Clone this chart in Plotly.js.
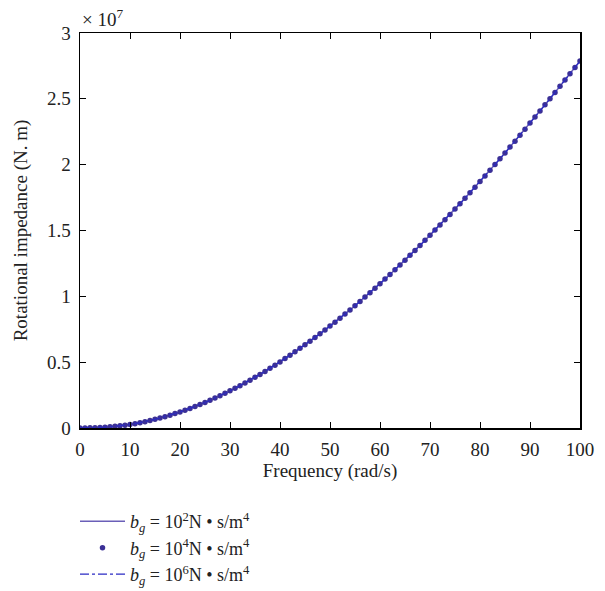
<!DOCTYPE html>
<html>
<head>
<meta charset="utf-8">
<script src="https://cdn.plot.ly/plotly-3.0.1.min.js"></script>
<style>html,body{margin:0;padding:0;background:#fff;}#chart{width:605px;height:591px;}</style>
</head>
<body>
<div id="chart"></div>
<script>
// Frequency (rad/s)
const frequency = [0,1,2,3,4,5,6,7,8,9,10,11,12,13,14,15,16,17,18,19,20,21,22,23,24,25,26,27,28,29,30,31,32,33,34,35,36,37,38,39,40,41,42,43,44,45,46,47,48,49,50,51,52,53,54,55,56,57,58,59,60,61,62,63,64,65,66,67,68,69,70,71,72,73,74,75,76,77,78,79,80,81,82,83,84,85,86,87,88,89,90,91,92,93,94,95,96,97,98,99,100];
// Rotational impedance, in units of 1e7 N.m (curves of the three cases coincide)
const impedance = [0,0.0003,0.001,0.0023,0.0042,0.0065,0.0094,0.0127,0.0166,0.0211,0.026,
0.0326,0.0399,0.0479,0.0565,0.0658,0.0757,0.0863,0.0975,0.1094,0.122,
0.1351,0.1488,0.1632,0.1782,0.1939,0.2102,0.2272,0.2448,0.2631,0.282,
0.3013,0.3212,0.3417,0.3628,0.3845,0.4068,0.4297,0.4532,0.4773,0.502,
0.527,0.5525,0.5785,0.605,0.632,0.6594,0.6873,0.7157,0.7446,0.774,
0.8039,0.8343,0.8652,0.8966,0.9285,0.961,0.994,1.0275,1.0615,1.096,
1.1308,1.166,1.2017,1.2378,1.2744,1.3114,1.3489,1.3868,1.4252,1.464,
1.503,1.5424,1.5822,1.6224,1.663,1.704,1.7454,1.7872,1.8294,1.872,
1.9146,1.9576,2.001,2.0448,2.089,2.1336,2.1786,2.224,2.2698,2.316,
2.3618,2.4079,2.4543,2.501,2.548,2.5952,2.6427,2.6905,2.7386,2.787];
const seriesNames = [
  '<i>b</i><sub><i>g</i></sub>\u00a0= 10<sup>2</sup>N\u00a0• s/m<sup>4</sup>',
  '<i>b</i><sub><i>g</i></sub>\u00a0= 10<sup>4</sup>N\u00a0• s/m<sup>4</sup>',
  '<i>b</i><sub><i>g</i></sub>\u00a0= 10<sup>6</sup>N\u00a0• s/m<sup>4</sup>'
];
const xTicks = [0,10,20,30,40,50,60,70,80,90,100];
const yTicks = [0,0.5,1,1.5,2,2.5,3];
const yTickLabels = ['0','0.5','1','1.5','2','2.5','3'];

const font = 'Liberation Serif, Times New Roman, serif';
const fs = 19;
const traces = [
  {x: frequency, y: impedance, mode: 'lines', name: seriesNames[0],
   line: {color: '#6a5fb8', width: 1.5}},
  {x: frequency, y: impedance, mode: 'markers', name: seriesNames[1],
   marker: {color: '#3b3096', size: 5.5}},
  {x: frequency, y: impedance, mode: 'lines', name: seriesNames[2],
   line: {color: '#2b2bc4', width: 1.2, dash: 'dashdot'}}
];
const axisCommon = {
  showline: true, linecolor: '#000', linewidth: 1.5, mirror: 'ticks',
  ticks: 'inside', ticklen: 6, tickwidth: 1, tickcolor: '#000',
  showgrid: false, zeroline: false, automargin: false,
  tickfont: {family: font, size: fs, color: '#222'}
};
const layout = {
  width: 605, height: 591,
  margin: {l: 80, r: 25, t: 33, b: 163, autoexpand: false},
  paper_bgcolor: '#fff', plot_bgcolor: '#fff',
  font: {family: font, color: '#222'},
  showlegend: true,
  legend: {x: -0.01, xanchor: 'left', y: -0.19, yanchor: 'top',
           font: {family: font, size: 18, color: '#222'}, itemwidth: 45,
           bgcolor: 'rgba(0,0,0,0)', tracegroupgap: 0},
  xaxis: Object.assign({}, axisCommon, {
    range: [0, 100], tickvals: xTicks, ticklabelstandoff: 4,
    title: {text: 'Frequency (rad/s)', font: {family: font, size: fs, color: '#222'}, standoff: 0}
  }),
  yaxis: Object.assign({}, axisCommon, {
    range: [0, 3], tickvals: yTicks, ticktext: yTickLabels, ticklabelstandoff: 4,
    title: {text: 'Rotational impedance (N. m)', font: {family: font, size: fs, color: '#222'}, standoff: 14}
  }),
  annotations: [{
    xref: 'paper', yref: 'paper', x: 0, y: 1, xanchor: 'left', yanchor: 'bottom',
    yshift: 1, text: '× 10<sup>7</sup>', showarrow: false,
    font: {family: font, size: fs, color: '#222'}
  }]
};
Plotly.newPlot('chart', traces, layout, {displayModeBar: false, staticPlot: true});
</script>
</body>
</html>
